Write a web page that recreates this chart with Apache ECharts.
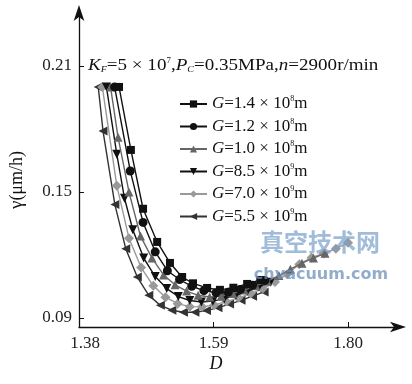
<!DOCTYPE html>
<html><head><meta charset="utf-8">
<script src="https://cdn.jsdelivr.net/npm/echarts@6/dist/echarts.min.js"></script>
<style>html,body{margin:0;padding:0;background:#fff}#c{width:412px;height:384px}</style>
</head><body><div id="c"></div>
<script>
// Tick labels
const xTicks = [1.38, 1.59, 1.80];
const yTicks = [0.09, 0.15, 0.21];
// Legend parts
const gMant = ['1.4', '1.2', '1.0', '8.5', '7.0', '5.5'];
const gExp = ['8', '8', '8', '9', '9', '9'];
// Series values [D, gamma]
const sG14 = [[1.4425,0.200],[1.461,0.170],[1.480,0.142],[1.502,0.1262],[1.522,0.1162],[1.541,0.1095],[1.558,0.1065],[1.580,0.1043],[1.600,0.1034],[1.621,0.1044],[1.6425,0.1062],[1.663,0.1081]];
const sG12 = [[1.4356,0.200],[1.460,0.160],[1.480,0.1355],[1.499,0.1215],[1.518,0.1125],[1.537,0.1083],[1.556,0.1051],[1.575,0.1030],[1.594,0.1020],[1.613,0.1022],[1.632,0.1036],[1.651,0.1056],[1.670,0.1078]];
const sG10 = [[1.4292,0.200],[1.441,0.176],[1.458,0.150],[1.476,0.129],[1.494,0.1185],[1.512,0.1105],[1.530,0.1058],[1.548,0.1028],[1.566,0.1008],[1.584,0.1000],[1.602,0.1004],[1.620,0.1016],[1.638,0.1033],[1.656,0.1053],[1.674,0.1075],[1.692,0.1102],[1.710,0.1132],[1.728,0.1161],[1.746,0.1185],[1.764,0.1208]];
const sG85 = [[1.4228,0.200],[1.439,0.168],[1.451,0.147],[1.464,0.132],[1.481,0.1185],[1.499,0.1097],[1.517,0.1040],[1.535,0.1002],[1.553,0.0983],[1.571,0.0976],[1.589,0.0980],[1.607,0.0992],[1.625,0.1008],[1.643,0.1027],[1.661,0.1048],[1.679,0.1070]];
const sG70 = [[1.4164,0.200],[1.439,0.153],[1.458,0.128],[1.477,0.114],[1.496,0.1053],[1.515,0.0999],[1.534,0.0968],[1.553,0.0954],[1.572,0.0953],[1.591,0.0962],[1.610,0.0978],[1.629,0.0996],[1.648,0.1016],[1.667,0.1040],[1.686,0.1071],[1.705,0.1108],[1.724,0.1156],[1.743,0.1187],[1.762,0.1207],[1.781,0.1230],[1.800,0.1258]];
const sG55 = [[1.410,0.200],[1.4175,0.179],[1.436,0.144],[1.453,0.123],[1.471,0.1095],[1.489,0.1008],[1.507,0.0960],[1.525,0.0937],[1.543,0.0927],[1.561,0.0927],[1.579,0.0935],[1.597,0.0949],[1.615,0.0966],[1.633,0.0984],[1.651,0.1004],[1.669,0.1024]];

const seriesData = [sG14, sG12, sG10, sG85, sG70, sG55];
const styles = [
  {c:'#111', s:'rect', z:8, r:0},
  {c:'#111', s:'circle', z:9, r:0},
  {c:'#666', s:'triangle', z:9, r:0},
  {c:'#111', s:'triangle', z:9, r:180},
  {c:'#999', s:'diamond', z:10, r:0},
  {c:'#333', s:'triangle', z:9, r:90}
];
const names = gMant.map((m,i)=>'G=' + m + '×10^' + gExp[i] + 'm');
const FONT = '"Liberation Serif", "DejaVu Serif", serif';

const chart = echarts.init(document.getElementById('c'), null, {renderer:'canvas'});
chart.setOption({
  animation: false,
  backgroundColor: '#fff',
  grid: {left: 79, right: 14, top: 13, bottom: 57, containLabel: false},
  xAxis: {
    type: 'value', min: 1.38, max: 1.878,
    axisLine: {lineStyle: {color: '#111', width: 1.3}, symbol: ['none', 'arrow'], symbolSize: [8, 16], symbolOffset: [0, 8]},
    axisTick: {inside: true, length: 5, lineStyle: {color: '#111'}, customValues: xTicks},
    axisLabel: {
      customValues: xTicks,
      formatter: v => (Math.abs(v - xTicks[0]) < 1e-6 ? '{f|' + v.toFixed(2) + '}' : v.toFixed(2)),
      rich: {f: {fontFamily: FONT, fontSize: 17, color: '#222', padding: [0, 0, 0, 12]}},
      color: '#222', fontFamily: FONT, fontSize: 17, margin: 8
    },
    splitLine: {show: false}
  },
  yAxis: {
    type: 'value', min: 0.0857, max: 0.2352,
    axisLine: {lineStyle: {color: '#111', width: 1.3}, symbol: ['none', 'arrow'], symbolSize: [8, 16], symbolOffset: [0, 8]},
    axisTick: {inside: true, length: 5, lineStyle: {color: '#111'}, customValues: yTicks},
    axisLabel: {customValues: yTicks, formatter: v => v.toFixed(2), color: '#222', fontFamily: FONT, fontSize: 17, margin: 7},
    splitLine: {show: false}
  },
  legend: {
    orient: 'vertical', left: 174, top: 90, itemWidth: 27, itemHeight: 9, itemGap: 4.5,
    data: names,
    formatter: function(name){
      const i = names.indexOf(name);
      return '{i|G}{t|=' + gMant[i] + ' × 10}{s|' + gExp[i] + '}{t|m}';
    },
    textStyle: {
      fontFamily: FONT, fontSize: 17, color: '#111',
      rich: {
        i: {fontFamily: FONT, fontSize: 17, fontStyle: 'italic', color: '#111', lineHeight: 17},
        t: {fontFamily: FONT, fontSize: 17, color: '#111', lineHeight: 17},
        s: {fontFamily: FONT, fontSize: 8, color: '#111', padding: [0, 0, 10, 0], lineHeight: 17}
      }
    }
  },
  series: seriesData.map((d, i) => ({
    name: names[i], type: 'line', data: d,
    symbol: styles[i].s, symbolSize: styles[i].z, symbolRotate: styles[i].r,
    showAllSymbol: true,
    lineStyle: {color: styles[i].c, width: 1.4},
    itemStyle: {color: styles[i].c},
    z: 2 + (5 - i)
  })),
  graphic: [
    {type: 'text', x: 88, y: 66, scaleX: 1.12, z: 100, style: {
      text: '{i|K}{sb|F}{t|=5 × 10}{s|7}{t|,}{i|P}{sb|C}{t|=0.35MPa,}{i|n}{t|=2900r/min}',
      verticalAlign: 'middle',
      rich: {
        i: {fontFamily: FONT, fontSize: 17, fontStyle: 'italic', fill: '#111', lineHeight: 18},
        t: {fontFamily: FONT, fontSize: 17, fill: '#111', lineHeight: 18},
        sb: {fontFamily: FONT, fontSize: 9, fontStyle: 'italic', fill: '#111', padding: [7, 0, 0, 0], lineHeight: 18},
        s: {fontFamily: FONT, fontSize: 8, fill: '#111', padding: [0, 0, 10, 0], lineHeight: 18}
      }
    }},
    {type: 'text', x: 17, y: 180, rotation: Math.PI / 2, z: 100, style: {
      text: '{i|γ}{t|(μm/h)}', align: 'center', verticalAlign: 'middle',
      rich: {
        i: {fontFamily: FONT, fontSize: 19, fill: '#111'},
        t: {fontFamily: FONT, fontSize: 18, fill: '#111'}
      }
    }},
    {type: 'text', x: 216, y: 364, z: 100, style: {
      text: 'D', align: 'center', verticalAlign: 'middle',
      font: 'italic 18px "Liberation Serif", serif', fill: '#111'
    }},
    {type: 'text', x: 320, y: 242, z: 100, style: {
      text: '真空技术网', align: 'center', verticalAlign: 'middle',
      font: 'bold 24px "Noto Sans CJK SC", sans-serif', fill: 'rgba(120,160,200,0.7)'
    }},
    {type: 'text', x: 321, y: 275, z: 100, style: {
      text: 'chvacuum.com', align: 'center', verticalAlign: 'middle',
      font: 'bold 16px "DejaVu Sans", sans-serif', fill: 'rgba(110,145,185,0.75)'
    }}
  ]
});
</script>
</body></html>
